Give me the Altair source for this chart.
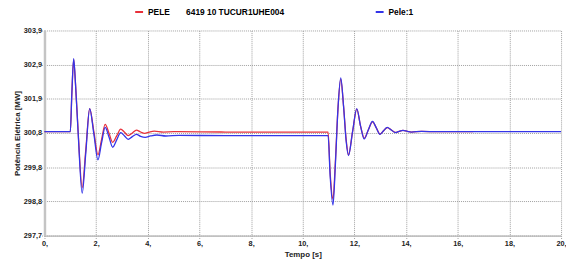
import altair as alt
import pandas as pd

red_name = "PELE\u00a0\u00a0\u00a0\u00a0\u00a0\u00a0\u00a06419 10 TUCUR1UHE004"
blue_name = "Pele:1"

red_t = [0, 1.0, 1.06, 1.13, 1.20, 1.30, 1.46, 1.60, 1.75, 1.91, 2.07, 2.21, 2.35, 2.50, 2.64,
         2.80, 2.95, 3.10, 3.24, 3.40, 3.56, 3.72, 3.88, 4.05, 4.25, 4.6, 5.0, 7.0, 10.98,
         11.06, 11.17, 11.26, 11.36, 11.47, 11.58, 11.68, 11.77, 11.93, 12.09, 12.24, 12.38,
         12.54, 12.70, 12.85, 12.99, 13.13, 13.27, 13.43, 13.59, 13.73, 13.88, 14.05, 14.2,
         14.6, 15.2, 16.6]
red_v = [300.84, 300.84, 302.0, 303.02, 302.3, 300.9, 299.15, 300.3, 301.54, 300.85, 300.14,
         300.6, 301.06, 300.79, 300.52, 300.72, 300.92, 300.82, 300.72, 300.80, 300.89, 300.83,
         300.79, 300.83, 300.86, 300.83, 300.84, 300.83, 300.83,
         299.6, 298.80, 299.9, 301.5, 302.43, 301.6, 300.6, 300.14, 300.85, 301.52, 301.0,
         300.64, 300.9, 301.14, 300.95, 300.77, 300.87, 300.96, 300.89, 300.82, 300.85, 300.88,
         300.85, 300.83, 300.85, 300.84, 300.84]

blue_t = [0, 1.0, 1.06, 1.13, 1.20, 1.30, 1.46, 1.60, 1.75, 1.91, 2.07, 2.21, 2.35, 2.50, 2.64,
          2.80, 2.95, 3.10, 3.24, 3.40, 3.56, 3.72, 3.90, 4.1, 4.35, 4.7, 5.2, 7.0, 10.98,
          11.06, 11.17, 11.26, 11.36, 11.47, 11.58, 11.68, 11.77, 11.93, 12.09, 12.24, 12.38,
          12.54, 12.70, 12.85, 12.99, 13.13, 13.27, 13.43, 13.59, 13.73, 13.88, 14.05, 14.2,
          14.6, 15.2, 20.0]
blue_v = [300.84, 300.84, 302.0, 303.05, 302.3, 300.85, 298.98, 300.2, 301.54, 300.78, 299.99,
          300.5, 300.97, 300.67, 300.37, 300.6, 300.81, 300.71, 300.61, 300.69, 300.76, 300.70,
          300.67, 300.71, 300.74, 300.71, 300.73, 300.72, 300.72,
          299.5, 298.62, 299.8, 301.5, 302.47, 301.6, 300.55, 300.12, 300.85, 301.54, 301.0,
          300.62, 300.9, 301.15, 300.95, 300.76, 300.87, 300.97, 300.89, 300.81, 300.85, 300.88,
          300.85, 300.83, 300.85, 300.84, 300.84]

x_ticks = [0, 2, 4, 6, 8, 10, 12, 14, 16, 18, 20]
y_ticks = [297.7, 298.7333, 299.7667, 300.8, 301.8333, 302.8667, 303.9]
y_labels = ["297,7", "298,8", "299,8", "300,8", "301,9", "302,9", "303,9"]

rows = [{"s": red_name, "t": t, "v": v} for t, v in zip(red_t, red_v)]
rows += [{"s": blue_name, "t": t, "v": v} for t, v in zip(blue_t, blue_v)]
df = pd.DataFrame(rows)

arr = "[" + ",".join("'%s'" % l for l in y_labels) + "]"
y_expr = arr + "[round((datum.value - %g) / %g)]" % (y_ticks[0], (y_ticks[-1] - y_ticks[0]) / 6)

font = "Liberation Sans"

chart = alt.Chart(df).mark_line(interpolate="monotone", strokeWidth=1.3).encode(
    x=alt.X("t:Q", scale=alt.Scale(domain=[0, 20], nice=False),
            axis=alt.Axis(values=x_ticks, labelExpr="datum.label + ','", title="Tempo [s]",
                          labelFlush=False, titleY=19, titleBaseline="middle", labelPadding=1)),
    y=alt.Y("v:Q", scale=alt.Scale(domain=[297.7, 303.9], nice=False, zero=False),
            axis=alt.Axis(values=y_ticks, labelExpr=y_expr, title="Potência Elétrica [MW]",
                          titleX=-27, titleY=104, titleAngle=-90, titleAlign="center",
                          titleBaseline="middle", domainWidth=2.5, domainColor="#c4c4c4",
                          labelPadding=0)),
    color=alt.Color("s:N", scale=alt.Scale(domain=[red_name, blue_name], range=["#e8303a", "#3434e8"]),
                    legend=alt.Legend(title=None, orient="none", legendX=91, legendY=-24,
                                      direction="horizontal", symbolType="stroke", symbolSize=64,
                                      symbolStrokeWidth=2, labelOffset=4, columnPadding=88,
                                      labelFont=font, labelFontSize=8.5, labelFontWeight="bold",
                                      labelColor="#000", labelLimit=300)),
).properties(
    width=524, height=208, padding={"left": 37, "top": 21, "right": 5, "bottom": 23},
    autosize=alt.AutoSizeParams(type="none"),
).configure_view(stroke=None).configure_axis(
    grid=True, gridColor="#a0a0a0", gridDash=[1, 1], gridWidth=1,
    domainColor="#b4b4b4", domainWidth=1.2,
    ticks=True, tickSize=3, tickColor="#a0a0a0", tickDash=[1, 1],
    labelFont=font, labelFontSize=7.4, labelFontWeight="bold", labelColor="#222",
    titleFont=font, titleFontSize=8, titleFontWeight="bold", titleColor="#222",
)

chart.save("out.html", embed_options={"renderer": "svg", "actions": False})
